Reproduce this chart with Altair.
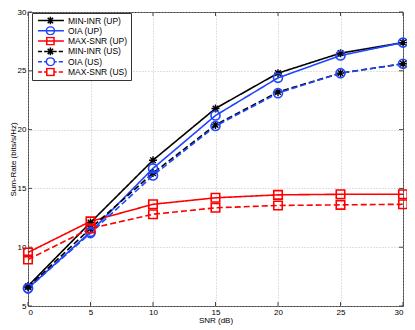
import altair as alt
import pandas as pd

snr = [0, 5, 10, 15, 20, 25, 30]
series_names = ["MIN-INR (UP)", "OIA (UP)", "MAX-SNR (UP)",
                "MIN-INR (US)", "OIA (US)", "MAX-SNR (US)"]
min_inr_up = [6.7, 12.1, 17.4, 21.8, 24.8, 26.5, 27.4]
oia_up = [6.5, 11.3, 16.7, 21.2, 24.4, 26.3, 27.4]
max_snr_up = [9.55, 12.2, 13.65, 14.2, 14.45, 14.5, 14.5]
min_inr_us = [6.6, 11.6, 16.3, 20.4, 23.2, 24.8, 25.6]
oia_us = [6.5, 11.2, 16.1, 20.3, 23.1, 24.8, 25.6]
max_snr_us = [8.95, 11.6, 12.8, 13.35, 13.55, 13.6, 13.65]
values = [min_inr_up, oia_up, max_snr_up, min_inr_us, oia_us, max_snr_us]
markers = ["star", "circle", "square", "star", "circle", "square"]
styles = ["UP", "UP", "UP", "US", "US", "US"]
x_ticks = [0, 5, 10, 15, 20, 25, 30]
y_ticks = [5, 10, 15, 20, 25, 30]

colors = ["#000000", "#1f45ff", "#ff0000", "#000000", "#1f45ff", "#ff0000"]
style_names = ["UP", "US"]
style_dashes = [[1, 0], [6, 3]]

star_path = "M-1,0L1,0M0,-1L0,1M-0.7,-0.7L0.7,0.7M-0.7,0.7L0.7,-0.7"
marker_unit = {
    "star": "M1.35,0L3.05,0M2.2,-0.85L2.2,0.85M1.6,-0.6L2.8,0.6M1.6,0.6L2.8,-0.6",
    "circle": "M3.1,0A0.9,0.9 0 1,1 1.3,0A0.9,0.9 0 1,1 3.1,0",
    "square": "M1.4,-0.8L3.0,-0.8L3.0,0.8L1.4,0.8Z",
}
line_unit = {
    "UP": "M-0.55,0L5.2,0",
    "US": "M-0.55,0L0.35,0M0.8,0L1.4,0M3.0,0L3.6,0M4.05,0L5.0,0",
}

rows = []
for name, vals, mk, st in zip(series_names, values, markers, styles):
    for s, v in zip(snr, vals):
        rows.append({"snr": s, "rate": v, "series": name, "marker": mk, "style": st})
df = pd.DataFrame(rows)
xt = pd.DataFrame({"t": x_ticks})
yt = pd.DataFrame({"t": y_ticks})

W, H = 375, 294
xscale = alt.Scale(domain=[0, 30], nice=False)
yscale = alt.Scale(domain=[5, 30], nice=False)
x = alt.X("snr:Q", title="SNR (dB)", scale=xscale,
          axis=alt.Axis(values=x_ticks, format="d"))
y = alt.Y("rate:Q", title="Sum-Rate (bits/s/Hz)", scale=yscale,
          axis=alt.Axis(values=y_ticks, format="d"))

legend = alt.Legend(
    title=None, orient="none", legendX=4, legendY=1,
    fillColor="white", strokeColor="#333333", padding=3,
    labelFont="Liberation Sans", labelFontSize=8.5, labelColor="#000000",
    labelOffset=22, rowPadding=1.3, clipHeight=9,
    symbolSize=81, symbolStrokeWidth=1.5,
    symbolOpacity=1, symbolFillColor="transparent",
)
color = alt.Color("series:N", sort=series_names,
                  scale=alt.Scale(domain=series_names, range=colors), legend=legend)
shape = alt.Shape("series:N", sort=series_names,
                  scale=alt.Scale(domain=series_names,
                                  range=[line_unit[s] + marker_unit[m]
                                         for m, s in zip(markers, styles)]),
                  legend=legend)
dash = alt.StrokeDash("style:N",
                      scale=alt.Scale(domain=style_names, range=style_dashes),
                      legend=None)

base = alt.Chart(df)

leg_layer = base.mark_point(size=81, filled=False, opacity=0, strokeWidth=1.5).encode(
    x=x, y=y, color=color, shape=shape,
)

lines = base.mark_line(strokeWidth=1.6).encode(
    x=x, y=y, color=color, strokeDash=dash, detail="series:N",
)

stars = base.transform_filter(alt.datum.marker == "star").mark_point(
    shape=star_path, size=64, filled=False, strokeWidth=1.4, opacity=1
).encode(x=x, y=y, color=color)
circles = base.transform_filter(alt.datum.marker == "circle").mark_point(
    shape="circle", size=81, filled=False, strokeWidth=1.6, opacity=1
).encode(x=x, y=y, color=color)
squares = base.transform_filter(alt.datum.marker == "square").mark_point(
    shape="square", size=72, filled=False, strokeWidth=1.6, opacity=1
).encode(x=x, y=y, color=color)

tc = "#444444"
xb = alt.Chart(xt).mark_rule(color=tc, strokeWidth=1).encode(
    x=alt.X("t:Q", scale=xscale), y=alt.value(H), y2=alt.value(H - 4))
xtop = alt.Chart(xt).mark_rule(color=tc, strokeWidth=1).encode(
    x=alt.X("t:Q", scale=xscale), y=alt.value(0), y2=alt.value(4))
yl = alt.Chart(yt).mark_rule(color=tc, strokeWidth=1).encode(
    y=alt.Y("t:Q", scale=yscale), x=alt.value(0), x2=alt.value(4))
yr = alt.Chart(yt).mark_rule(color=tc, strokeWidth=1).encode(
    y=alt.Y("t:Q", scale=yscale), x=alt.value(W - 4), x2=alt.value(W))

chart = alt.layer(leg_layer, xb, xtop, yl, yr, lines, stars, circles, squares).properties(
    width=W, height=H,
    autosize=alt.AutoSizeParams(type="none"),
    padding={"left": 20, "top": 4, "right": 4, "bottom": 22},
).configure_view(
    stroke="#444444", strokeWidth=1
).configure_axis(
    labelFont="Liberation Sans", titleFont="Liberation Sans",
    labelFontSize=8, titleFontSize=8, titleFontWeight="normal",
    labelColor="#000000", titleColor="#000000",
    grid=True, gridColor="#b0b0b0", gridDash=[1, 2], gridWidth=0.8,
    domain=False, ticks=False, labelPadding=2, titlePadding=0,
)

chart.save("out.html", embed_options={"renderer": "svg", "actions": False})
